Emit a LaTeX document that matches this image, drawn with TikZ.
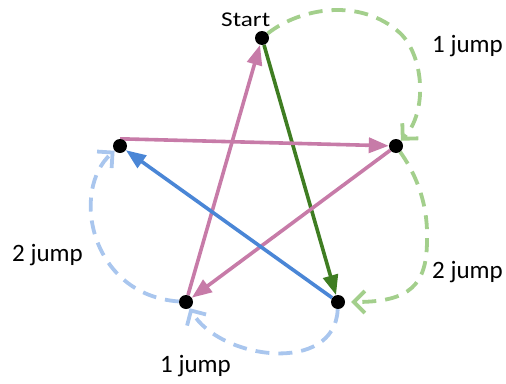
\documentclass[tikz,border=0pt]{standalone}
\usepackage{fontspec}
\setmainfont{Carlito}
\usetikzlibrary{arrows.meta}
\definecolor{pinkline}{HTML}{C77BA8}
\definecolor{darkgreen}{HTML}{3F7D22}
\definecolor{blueline}{HTML}{4A86D6}
\definecolor{lightgreen}{HTML}{A3CF8C}
\definecolor{lightblue}{HTML}{A9C6EE}
\pgfdeclarelayer{lines}
\pgfsetlayers{lines,main}
\begin{document}
\begin{tikzpicture}[x=1pt,y=-1pt,
  dot/.style={circle,fill=black,inner sep=0pt,minimum size=14pt},
  move/.style={line width=3.6pt,-{Triangle[length=20pt,width=15pt]}},
  jumparc/.style={line width=3.8pt,dash pattern=on 14pt off 9pt,
    -{Straight Barb[length=11pt,width=22pt]}},
  lbl/.style={font=\fontsize{25}{25}\selectfont,anchor=base west,inner sep=0pt}]
\useasboundingbox (0,0) rectangle (506,383);

% the five points of the star
\node[dot] (S)  at (262,38)  {};
\node[dot] (R)  at (396,146) {};
\node[dot] (BR) at (338,302) {};
\node[dot] (BL) at (186,302) {};
\node[dot] (L)  at (120,146) {};

\begin{pgfonlayer}{lines}
  % moves along the star
  \draw[move,darkgreen] (S) -- (BR);
  \draw[move,pinkline] (BL) -- (S);
  \draw[move,pinkline] (L.north) -- (R);
  \draw[move,pinkline] (R) -- (BL);
  \draw[move,blueline] (BR) -- (L);

  % jumps around the outside
  \draw[jumparc,lightgreen] (S) .. controls (300,8) and (360,-3) .. (400,33)
        .. controls (424,56) and (428,112) .. (R);
  \draw[jumparc,lightgreen,shorten >=6pt] (R) .. controls (420,180) and (428,210) .. (427,240)
        .. controls (427,285) and (410,302) .. (BR);
  \draw[jumparc,lightblue] (BR) .. controls (335,375) and (220,360) .. (BL);
  \draw[jumparc,lightblue] (BL) .. controls (90,295) and (70,190) .. (L);
\end{pgfonlayer}

% labels
\node[lbl,font=\fontsize{21}{21}\selectfont] (tstart) at (221,26) {\scalebox{1.2}[1]{Start}};
\node[lbl] (j1) at (432,52)  {1 jump};
\node[lbl] (j2) at (432,278) {2 jump};
\node[lbl] (j3) at (160,372) {1 jump};
\node[lbl] (j4) at (12,261)  {2 jump};
\end{tikzpicture}
\end{document}
